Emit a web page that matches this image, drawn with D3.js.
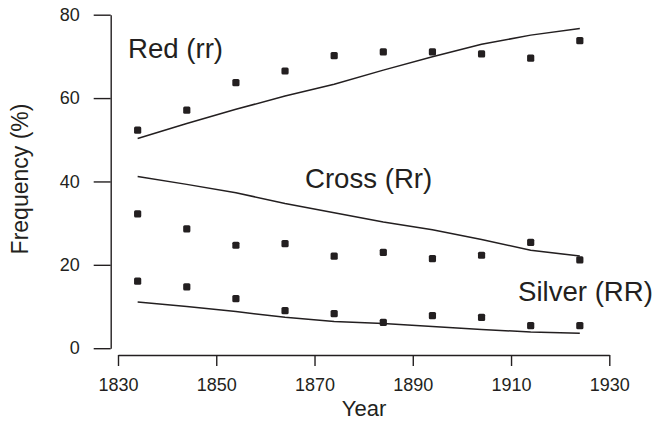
<!DOCTYPE html>
<html>
<head>
<meta charset="utf-8">
<script src="https://cdn.jsdelivr.net/npm/d3@7"></script>
<style>
  body { margin: 0; background: #fff; }
  svg { display: block; font-family: "Liberation Sans", Arial, sans-serif; }
</style>
</head>
<body>
<svg id="chart" width="656" height="422"></svg>
<script>
const years = [1834, 1844, 1854, 1864, 1874, 1884, 1894, 1904, 1914, 1924];
const redObs    = [52.3, 57.1, 63.7, 66.5, 70.2, 71.1, 71.1, 70.6, 69.6, 73.8];
const crossObs  = [32.2, 28.6, 24.7, 25.1, 22.1, 23.0, 21.5, 22.3, 25.4, 21.2];
const silverObs = [16.1, 14.7, 11.9, 9.0, 8.3, 6.2, 7.8, 7.4, 5.4, 5.4];
const redFit    = [50.3, 53.9, 57.3, 60.5, 63.3, 66.7, 69.9, 72.9, 75.1, 76.7];
const crossFit  = [41.2, 39.3, 37.3, 34.7, 32.5, 30.3, 28.4, 26.1, 23.5, 22.1];
const silverFit = [11.1, 10.0, 8.8, 7.4, 6.4, 5.9, 5.2, 4.5, 3.9, 3.6];
const xTicks = [1830, 1850, 1870, 1890, 1910, 1930];
const yTicks = [0, 20, 40, 60, 80];
const labels = ["Red (rr)", "Cross (Rr)", "Silver (RR)"];

const ink = "#231f20";
const svg = d3.select("#chart");
const x = d3.scaleLinear().domain([1830, 1930]).range([118, 609.3]);
const y = d3.scaleLinear().domain([0, 80]).range([348.2, 14.7]);

// axes
const gy = svg.append("g").attr("transform", "translate(110.7,0)")
  .call(d3.axisLeft(y).tickValues(yTicks).tickSize(17).tickSizeOuter(0).tickPadding(14));
const gx = svg.append("g").attr("transform", "translate(0,355)")
  .call(d3.axisBottom(x).tickValues(xTicks).tickFormat(d3.format("d")).tickSize(11).tickSizeOuter(0).tickPadding(12));
[gx, gy].forEach(g => {
  g.selectAll("path, line").attr("stroke", ink).attr("stroke-width", 1.4);
  g.selectAll("text").attr("fill", ink).style("font-size", "18px")
    .style("font-family", "'Liberation Sans', Arial, sans-serif");
});

// axis titles
svg.append("text").attr("x", 364).attr("y", 416).attr("text-anchor", "middle")
  .attr("fill", ink).style("font-size", "22px").text("Year");
svg.append("text").attr("transform", "translate(28.3,179) rotate(-90)").attr("text-anchor", "middle")
  .attr("fill", ink).style("font-size", "23px").text("Frequency (%)");

// fitted lines
const line = d3.line().x((d, i) => x(years[i])).y(d => y(d));
[redFit, crossFit, silverFit].forEach(s => {
  svg.append("path").datum(s).attr("d", line)
    .attr("fill", "none").attr("stroke", ink).attr("stroke-width", 1.5);
});

// observed points
[redObs, crossObs, silverObs].forEach(s => {
  svg.append("g").selectAll("rect").data(s).join("rect")
    .attr("x", (d, i) => x(years[i]) - 3.6)
    .attr("y", d => y(d) - 3.6)
    .attr("width", 7.2).attr("height", 7.2).attr("rx", 1.5)
    .attr("fill", ink);
});

// series labels
const labelPos = [[128, 58.3], [305, 188], [518, 300.7]];
labels.forEach((t, i) => {
  svg.append("text").attr("x", labelPos[i][0]).attr("y", labelPos[i][1])
    .attr("fill", ink).style("font-size", "27.6px").text(t);
});
</script>
</body>
</html>
